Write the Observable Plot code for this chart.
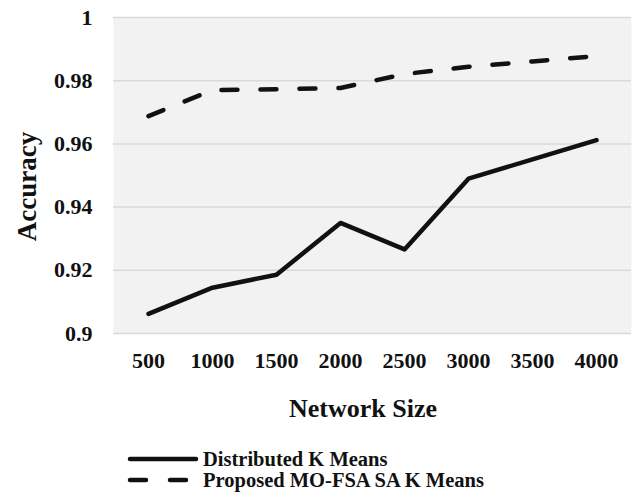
<!DOCTYPE html>
<html>
<head>
<meta charset="utf-8">
<script src="https://cdn.jsdelivr.net/npm/d3@7"></script>
<script src="https://cdn.jsdelivr.net/npm/@observablehq/plot@0.6"></script>
<style>
  html, body { margin: 0; padding: 0; background: #fff; }
  #chart svg { display: block; }
</style>
</head>
<body>
<div id="chart"></div>
<script>
const sizes = ["500", "1000", "1500", "2000", "2500", "3000", "3500", "4000"];
const distributed = [0.9062, 0.9145, 0.9186, 0.935, 0.9266, 0.949, 0.9551, 0.9612];
const proposed = [0.9688, 0.977, 0.9773, 0.9777, 0.9821, 0.9844, 0.9861, 0.9878];
const yTicks = [0.9, 0.92, 0.94, 0.96, 0.98, 1];
const yTickLabels = ["0.9", "0.92", "0.94", "0.96", "0.98", "1"];
const seriesNames = ["Distributed K Means", "Proposed MO-FSA SA K Means"];
const xTitle = "Network Size";
const yTitle = "Accuracy";

const rows = [];
sizes.forEach((s, i) => {
  rows.push({size: s, value: distributed[i], series: seriesNames[0]});
  rows.push({size: s, value: proposed[i], series: seriesNames[1]});
});

const FONT = "'Liberation Serif', 'Times New Roman', serif";

const svg = Plot.plot({
  width: 632,
  height: 503,
  marginLeft: 113,
  marginRight: 1,
  marginTop: 17,
  marginBottom: 170,
  style: {fontFamily: FONT, fontWeight: "bold", color: "#111", background: "#fff"},
  x: {type: "point", domain: sizes, padding: 0.5, align: 0.5},
  y: {domain: [0.9, 1]},
  marks: [
    Plot.frame({fill: "#f2f2f2", stroke: null}),
    Plot.gridY(yTicks, {stroke: "#d9d9d9", strokeOpacity: 1, strokeWidth: 1.5}),
    Plot.axisY(yTicks, {
      tickSize: 0, tickPadding: 21, fontSize: 22, label: null,
      tickFormat: d => yTickLabels[yTicks.indexOf(d)]
    }),
    Plot.axisX({tickSize: 0, tickPadding: 19, fontSize: 22, label: null}),
    Plot.line(rows.filter(d => d.series === seriesNames[0]), {
      x: "size", y: "value", stroke: "#111", strokeWidth: 4.5,
      strokeLinejoin: "round", strokeLinecap: "round"
    }),
    Plot.line(rows.filter(d => d.series === seriesNames[1]), {
      x: "size", y: "value", stroke: "#111", strokeWidth: 4.5,
      strokeDasharray: "16,23", strokeLinecap: "round", strokeLinejoin: "round"
    })
  ]
});

const s = d3.select(svg);
// axis titles
s.append("text")
  .attr("x", 363).attr("y", 416.5)
  .attr("text-anchor", "middle")
  .attr("font-size", 26).attr("font-weight", "bold").attr("font-family", FONT)
  .attr("fill", "#111")
  .text(xTitle);
s.append("text")
  .attr("transform", "translate(35.5,186.5) rotate(-90)")
  .attr("text-anchor", "middle")
  .attr("font-size", 27).attr("font-weight", "bold").attr("font-family", FONT)
  .attr("fill", "#111")
  .text(yTitle);

// legend
const legendDash = [null, "16,24"];
seriesNames.forEach((name, i) => {
  const y = 459 + i * 21;
  s.append("line")
    .attr("x1", 130).attr("x2", 196).attr("y1", y).attr("y2", y)
    .attr("stroke", "#111").attr("stroke-width", 4.5)
    .attr("stroke-linecap", "round")
    .attr("stroke-dasharray", legendDash[i]);
  s.append("text")
    .attr("x", 203).attr("y", y + 7)
    .attr("text-anchor", "start")
    .attr("font-size", 20.5).attr("font-weight", "bold").attr("font-family", FONT)
    .attr("fill", "#111")
    .text(name);
});

document.getElementById("chart").appendChild(svg);
</script>
</body>
</html>
